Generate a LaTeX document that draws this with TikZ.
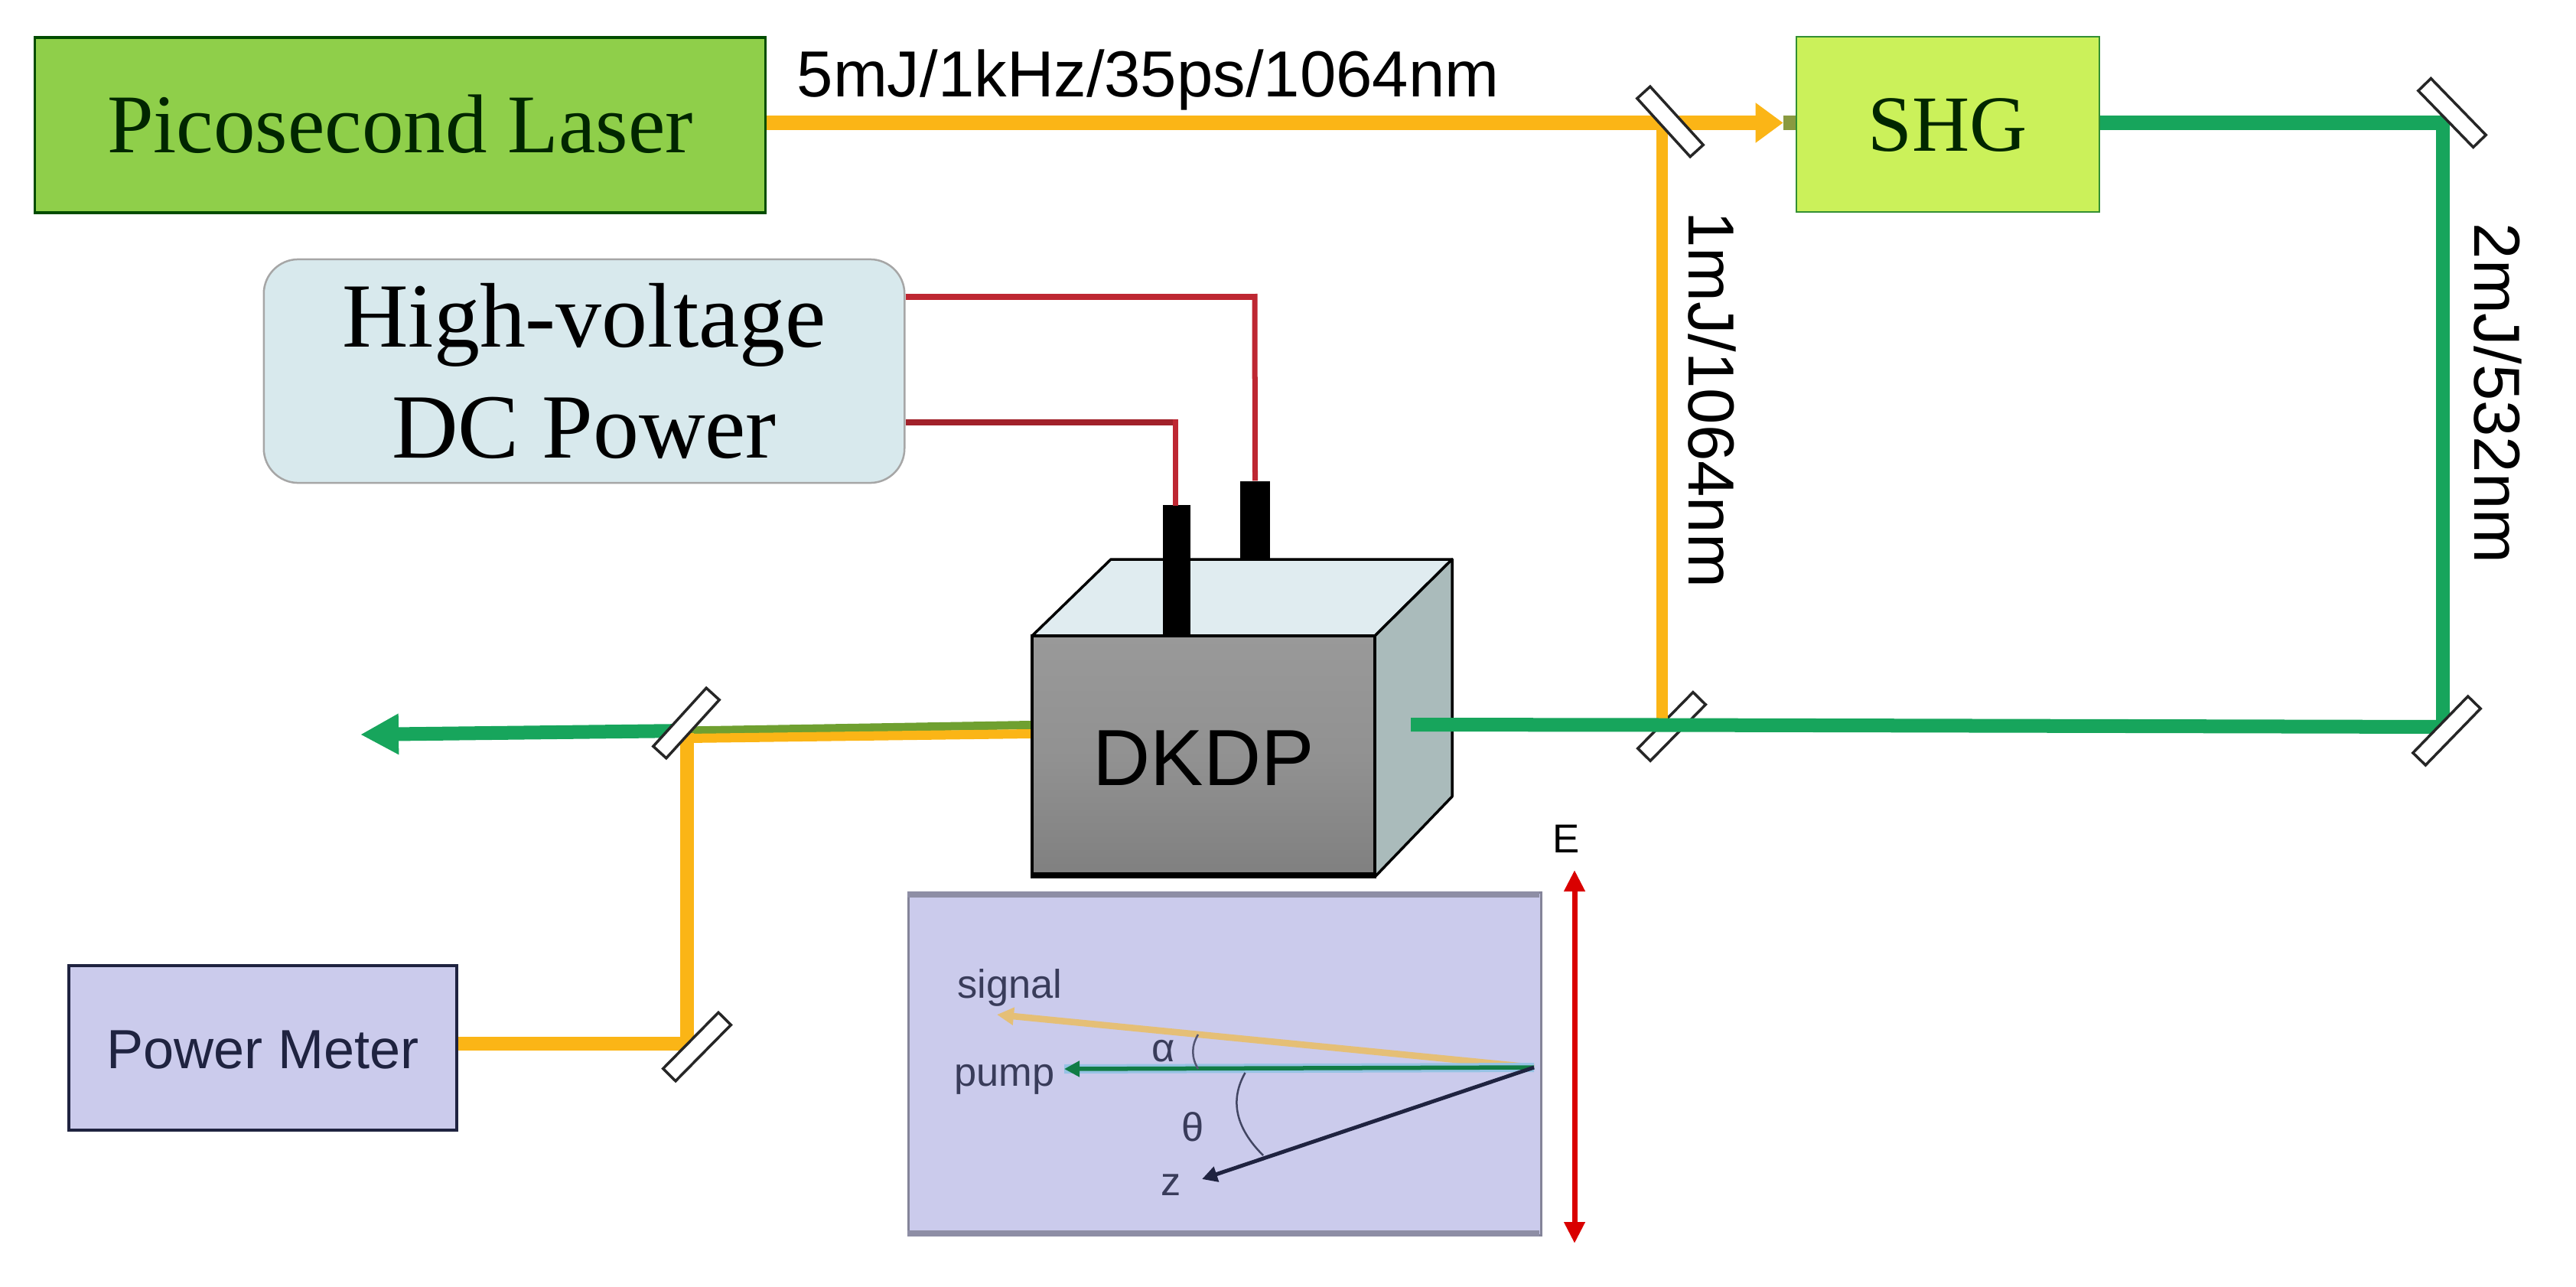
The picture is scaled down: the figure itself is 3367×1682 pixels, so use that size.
\documentclass[tikz,border=0pt]{standalone}
\usepackage{fontspec}
\setmainfont{Liberation Serif}
\setsansfont{Liberation Sans}
\usetikzlibrary{arrows.meta}
\definecolor{ybeam}{HTML}{FBB516}
\definecolor{gbeam}{HTML}{17A55C}
\definecolor{wire}{HTML}{BE2732}
\definecolor{lasergreen}{HTML}{8FCF4A}
\definecolor{shggreen}{HTML}{CBF15A}
\definecolor{hvblue}{HTML}{D8E9ED}
\definecolor{lilac}{HTML}{CBCBEC}
\definecolor{navy}{HTML}{1F2340}
\definecolor{topface}{HTML}{E0ECF0}
\definecolor{sideface}{HTML}{AABBBB}
\definecolor{olive}{HTML}{6FA030}
\definecolor{stubcol}{HTML}{8A9A40}
\tikzset{
  x=0.01cm,y=-0.01cm,
  box/.style={draw,inner sep=0pt,text depth=0pt,align=center},
  mirror/.style={draw=black!85,fill=white,line width=.035cm,inner sep=0pt,minimum width=1.03cm,minimum height=.23cm},
  yellowbeam/.style={draw=ybeam,line width=.18cm},
  greenbeam/.style={draw=gbeam,line width=.18cm},
  redwire/.style={draw=wire,line width=.07cm,line join=miter},
  post/.style={fill=black,draw=none,inner sep=0pt},
  sanslab/.style={font=\sffamily\fontsize{24.2}{29}\selectfont,inner sep=0pt,text=black},
  insetlab/.style={font=\sffamily\fontsize{14.9}{18}\selectfont,inner sep=0pt,text=navy!85!lilac},
  cubeedge/.style={draw=black,line width=.035cm,line join=round},
}
\begin{document}
\begin{tikzpicture}
\useasboundingbox (0,0) rectangle (3367,1682);
% named beam points
\coordinate (jt1) at (2172,160.5);
\coordinate (jt2) at (3192.5,160.5);
\coordinate (jb1) at (2172,947.5);
\coordinate (jb2) at (3192.5,950);
\coordinate (gstart) at (1844,947);
\coordinate (jl1) at (898,965);
\coordinate (jl2) at (898,1364);
\coordinate (gout) at (471,960);
\coordinate (gmir) at (897,955);
% boxes
\node[box,draw=black!70!green,line width=.035cm,fill=lasergreen,minimum width=9.54cm,minimum height=2.29cm,text=black!85!green,text height=.71cm,font=\fontsize{31}{37}\selectfont] (laser) at (523,163.5) {Picosecond Laser};
\node[box,draw=black!40!green!60!gray,line width=.025cm,fill=shggreen,minimum width=3.96cm,minimum height=2.29cm,text=black!85!green,text height=.69cm,font=\fontsize{29.6}{35}\selectfont] (shg) at (2546,162.5) {SHG};
\node[draw=black!35,line width=.025cm,fill=hvblue,rounded corners=.45cm,inner sep=0pt,minimum width=8.37cm,minimum height=2.92cm,align=center,font=\fontsize{34.1}{41.5}\selectfont] (hv) at (763.5,485) {High-voltage\\DC Power};
\node[box,draw=navy,line width=.035cm,fill=lilac,minimum width=5.07cm,minimum height=2.15cm,text=navy,text height=.53cm,font=\sffamily\fontsize{20.5}{25}\selectfont] (pm) at (343.5,1369.5) {Power Meter};
% cube
\coordinate (fnw) at (1349,831);
\coordinate (fne) at (1797,831);
\coordinate (fse) at (1797,1146);
\coordinate (bnw) at (1452,731);
\coordinate (bne) at (1898,731);
\coordinate (bse) at (1898,1041);
\node[post,minimum width=.395cm,minimum height=1.02cm] (post2) at (1640.5,680) {};
\filldraw[cubeedge,fill=topface] (fnw) -- (bnw) -- (bne) -- (fne) -- cycle;
\filldraw[cubeedge,fill=sideface] (fne) -- (bne) -- (bse) -- (fse) -- cycle;
\node[draw=black,line width=.035cm,inner sep=0pt,top color=black!40,bottom color=black!50,middle color=black!43,minimum width=4.48cm,minimum height=3.15cm,font=\sffamily\fontsize{29.6}{35}\selectfont,text=black,text height=.75cm,text depth=0pt] (dkdp) at (1573,988.5) {DKDP};
\draw[black,line width=.08cm] ([yshift=.04cm]dkdp.south west) -- ([yshift=.04cm]dkdp.south east);
\node[post,minimum width=.36cm,minimum height=1.71cm] (post1) at (1538,745.5) {};
% mirror under the green beam
\node[mirror,rotate=45.5] (m3) at (2185,949.5) {};
% beams on the right
\draw[draw=ybeam,line width=.15cm] (jt1) -- (jb1);
\draw[yellowbeam,-{Triangle[length=.36cm,width=.5cm]},shorten >=.16cm] (laser.east |- jt1) -- (shg.west |- jt1);
\draw[draw=stubcol,line width=.18cm] ([xshift=-.16cm]shg.west |- jt1) -- (shg.west |- jt1);
\draw[greenbeam] (shg.east |- jt2) -- (jt2);
\draw[greenbeam,line cap=rect] (jt2) -- (jb2);
\draw[greenbeam] (gstart) -- (jb1) -- (jb2);
\node[mirror,rotate=-47.7] (m1) at (2183,159) {};
\node[mirror,rotate=-45.8] (m2) at (3205,147.5) {};
\node[mirror,rotate=45.8] (m4) at (3198,955) {};
% wires
\draw[draw=wire,line width=.08cm] (hv.east |- 0,388) -- (1640,388);
\draw[redwire] (1640,384) -- (post2.north);
\draw[draw=wire!85!black,line width=.08cm] (hv.east |- 0,552) -- (1536,552);
\draw[redwire] (1536,548) -- (1536,661);
% output beams
\draw[greenbeam,-{Triangle[length=.5cm,width=.5cm]}] (gmir) -- (gout);
\draw[draw=olive,line width=.11cm] (gmir) -- (dkdp.west |- 0,947.5);
\draw[draw=ybeam,line width=.12cm] (jl1) -- (dkdp.west |- 0,959);
\draw[draw=ybeam,line width=.18cm] (898,958) -- (jl2);
\draw[yellowbeam] (pm.east |- jl2) -- (907,1364);
\node[mirror,rotate=47.7] (m5) at (897,945) {};
\node[mirror,rotate=45.4] (m6) at (911,1368) {};
% inset
\node[draw=black!35!lilac,line width=.03cm,fill=lilac,inner sep=0pt,minimum width=8.26cm,minimum height=4.47cm] (inset) at (1601,1390.5) {};
\fill[black!30!lilac] (inset.north west) rectangle ++(826,8);
\fill[black!30!lilac] (inset.south west) rectangle ++(826,-8);
\coordinate (apex) at (2005,1395);
\coordinate (sigend) at (1303,1326);
\coordinate (pumpend) at (1391,1397);
\coordinate (zend) at (1571,1541);
\draw[draw=ybeam!55!lilac,line width=.085cm,-{Triangle[length=.22cm,width=.22cm]}] (apex) -- (sigend);
\draw[draw=cyan!30!lilac,line width=.12cm] (apex) -- (pumpend);
\draw[draw=gbeam!75!black,line width=.055cm,-{Triangle[length=.2cm,width=.2cm]}] (apex) -- (pumpend);
\draw[draw=navy,line width=.05cm,-{Triangle[length=.2cm,width=.2cm]}] (apex) -- (zend);
\coordinate (a1) at (1566,1352);
\coordinate (a2) at (1566,1397);
\coordinate (t1) at (1627.5,1402);
\coordinate (t2) at (1651,1510);
\draw[draw=navy!70!lilac,line width=.025cm] (a1) .. controls (1557,1367) and (1557,1382) .. (a2);
\draw[draw=navy!80!lilac,line width=.025cm] (t1) .. controls (1607,1438) and (1615,1474) .. (t2);
\node[insetlab,anchor=base west] (sig) at (1251,1304) {signal};
\node[insetlab,anchor=base west] (pmp) at (1247,1419) {pump};
\node[insetlab] (alpha) at (1521,1374) {α};
\node[insetlab] (theta) at (1559,1473) {θ};
\node[insetlab] (zz) at (1531,1549) {z};
% E field
\coordinate (e1) at (2058,1137);
\coordinate (e2) at (2058,1625);
\draw[draw=red!85!black,line width=.07cm,{Triangle[length=.28cm,width=.26cm]}-{Triangle[length=.28cm,width=.26cm]}] (e1) -- (e2);
\node[font=\sffamily\fontsize{15}{18}\selectfont,inner sep=0pt] (efield) at (2047,1096) {E};
% labels
\node[sanslab,anchor=base west] (l1) at (1041,127) {5mJ/1kHz/35ps/1064nm};
\node[sanslab,rotate=-90,text height=.61cm,text depth=0pt] (l2) at (2238,522) {1mJ/1064nm};
\node[sanslab,rotate=-90,text height=.61cm,text depth=0pt] (l3) at (3265,514) {2mJ/532nm};
\end{tikzpicture}
\end{document}
